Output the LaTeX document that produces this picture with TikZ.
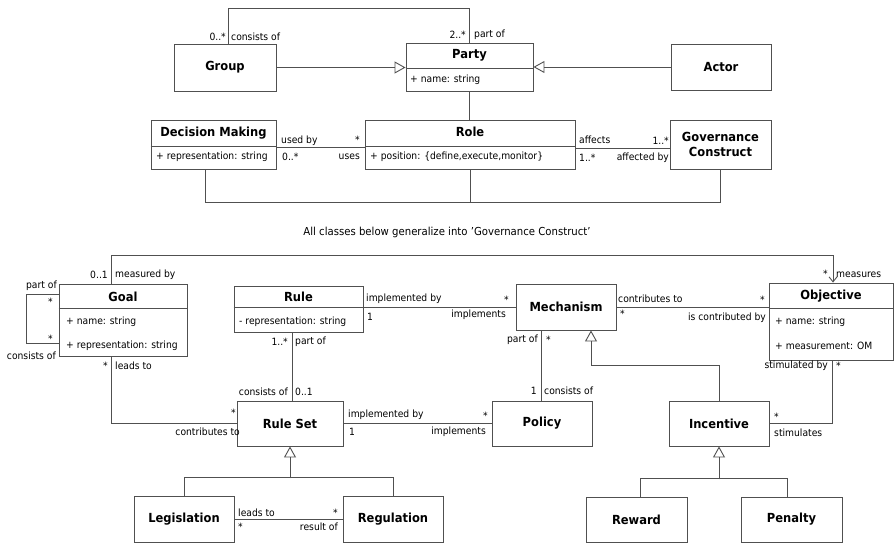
\documentclass[tikz,border=0pt]{standalone}
\usepackage{fontspec}
\setmainfont{DejaVu Sans}[FakeStretch=0.92]
\usetikzlibrary{arrows.meta,positioning}
\definecolor{lineclr}{HTML}{505050}
\tikzset{
   cls/.style={draw=lineclr, line width=0.9pt, shape=rectangle, inner sep=0pt},
   title/.style={font=\fontsize{12.5}{15}\selectfont\bfseries, align=center, inner sep=0pt},
   attr/.style={font=\fontsize{10}{11}\selectfont, anchor=west, inner sep=0pt},
   lbl/.style={font=\fontsize{10}{11}\selectfont, inner sep=0pt},
   assoc/.style={draw=lineclr, line width=0.9pt},
   gen/.style={assoc, -{Triangle[open, length=11pt, width=12pt]}},
   nav/.style={assoc, -{Straight Barb[length=5pt, width=8pt]}}
}
\begin{document}
\begin{tikzpicture}[x=1pt,y=-1pt]
   \useasboundingbox (0,0) rectangle (894,543);
   % upper part
   \path (225,67.5) node[cls, minimum width=102, minimum height=47] (group) {};
   \path (group.center) node[title] (groupT) {Group};
   \path (469.5,67) node[cls, minimum width=127, minimum height=48] (party) {};
   \path (469.5,55) node[title] (partyT) {Party};
   \path (410,80) node[attr] (partyA) {+ name: string};
   \path (721,67) node[cls, minimum width=100, minimum height=46] (actor) {};
   \path (actor.center) node[title] (actorT) {Actor};
   \path (213.5,144.5) node[cls, minimum width=125, minimum height=49] (dm) {};
   \path (213.5,133) node[title] (dmT) {Decision Making};
   \path (156,157) node[attr] (dmA) {+ representation: string};
   \path (470,144.5) node[cls, minimum width=210, minimum height=49] (role) {};
   \path (470,132) node[title] (roleT) {Role};
   \path (370,157) node[attr] (roleA) {+ position: \{define,execute,monitor\}};
   \path (720.5,144.5) node[cls, minimum width=101, minimum height=49] (gc) {};
   \path (gc.center) node[title] (gcT) {Governance\\Construct};
   \draw[assoc] (party.west |- 0,68) -- (party.east |- 0,68);
   \draw[assoc] (dm.west |- 0,146) -- (dm.east |- 0,146);
   \draw[assoc] (role.west |- 0,146) -- (role.east |- 0,146);

   \draw[assoc] ([xshift=3pt]group.north) -- ++(0,-35) -| (party.north);
   \draw[gen] (group.east) -- (group.east -| party.west);
   \draw[gen] (actor.west) -- (actor.west -| party.east);
   \draw[assoc] (party.south) -- (party.south |- role.north);
   \draw[assoc] ([yshift=-2.5pt]dm.east) -- ([yshift=-2.5pt]role.west);
   \draw[assoc] ([yshift=-3.5pt]role.east) -- ([yshift=-3.5pt]gc.west);
   \draw[assoc] ([xshift=-8.5pt]dm.south) -- ++(0,33) -| (gc.south);
   \draw[assoc] (role.south) -- ++(0,33);

   \path (226,37) node[lbl, anchor=east] (grpM) {0..*};
   \path (231,37) node[lbl, anchor=west] (grpR) {consists of};
   \path (466,35) node[lbl, anchor=east] (ptyM) {2..*};
   \path (474,35) node[lbl, anchor=west] (ptyR) {part of};
   \path (281,141) node[lbl, anchor=west] (dmR) {used by};
   \path (360,140) node[lbl, anchor=east] (roleM1) {*};
   \path (282,157) node[lbl, anchor=west] (dmM) {0..*};
   \path (360,157) node[lbl, anchor=east] (roleR1) {uses};
   \path (579,140) node[lbl, anchor=west] (roleR2) {affects};
   \path (669,141) node[lbl, anchor=east] (gcM) {1..*};
   \path (579,158) node[lbl, anchor=west] (roleM2) {1..*};
   \path (669,158) node[lbl, anchor=east] (gcR) {affected by};
   \path (447,232) node[lbl, font=\fontsize{11}{12}\selectfont] (note) {All classes below generalize into 'Governance Construct'};

   % lower part
   \path (123,320) node[cls, minimum width=128, minimum height=72] (goal) {};
   \path (123,297) node[title] (goalT) {Goal};
   \path (66,322) node[attr] (goalA1) {+ name: string};
   \path (66,346) node[attr] (goalA2) {+ representation: string};
   \path (298.5,309) node[cls, minimum width=129, minimum height=46] (rule) {};
   \path (298.5,297) node[title] (ruleT) {Rule};
   \path (239,322) node[attr] (ruleA) {- representation: string};
   \path (566,307) node[cls, minimum width=100, minimum height=46] (mech) {};
   \path (mech.center) node[title] (mechT) {Mechanism};
   \path (831,321.5) node[cls, minimum width=124, minimum height=77] (obj) {};
   \path (831,296) node[title] (objT) {Objective};
   \path (775,322) node[attr] (objA1) {+ name: string};
   \path (775,346) node[attr] (objA2) {+ measurement: OM};
   \path (290,423.5) node[cls, minimum width=106, minimum height=45] (ruleset) {};
   \path (ruleset.center) node[title] (rulesetT) {Rule Set};
   \path (542,423.5) node[cls, minimum width=100, minimum height=45] (policy) {};
   \path (policy.center) node[title] (policyT) {Policy};
   \path (719,423.5) node[cls, minimum width=100, minimum height=45] (incent) {};
   \path (incent.center) node[title] (incentT) {Incentive};
   \path (184,519) node[cls, minimum width=100, minimum height=46] (legis) {};
   \path (legis.center) node[title] (legisT) {Legislation};
   \path (393,519) node[cls, minimum width=100, minimum height=46] (regul) {};
   \path (regul.center) node[title] (regulT) {Regulation};
   \path (636.5,519.5) node[cls, minimum width=101, minimum height=45] (reward) {};
   \path (reward.center) node[title] (rewardT) {Reward};
   \path (791.5,519.5) node[cls, minimum width=101, minimum height=45] (penalty) {};
   \path (penalty.center) node[title] (penaltyT) {Penalty};
   \draw[assoc] (goal.west |- 0,308) -- (goal.east |- 0,308);
   \draw[assoc] (rule.west |- 0,307) -- (rule.east |- 0,307);
   \draw[assoc] (obj.west |- 0,308) -- (obj.east |- 0,308);

   \draw[nav] ([xshift=-12pt]goal.north) -- ++(0,-28) -| ([xshift=2pt]obj.north);
   \draw[assoc] ([yshift=26pt]goal.west) -- ++(-32,0) |- ([yshift=-23pt]goal.west);
   \draw[assoc] (rule.east |- mech.west) -- (mech.west);
   \draw[assoc] (mech.east) -- (mech.east -| obj.west);
   \draw[assoc] ([xshift=-25pt]mech.south) -- ([xshift=-25pt]mech.south |- policy.north);
   \draw[gen] (incent.north) -- ++(0,-35) -| ([xshift=25pt]mech.south);
   \draw[assoc] ([xshift=-6.5pt]rule.south) -- ([xshift=-6.5pt]rule.south |- ruleset.north);
   \draw[assoc] ([xshift=-12pt]goal.south) |- (ruleset.west);
   \draw[assoc] (ruleset.east) -- (policy.west);
   \draw[assoc] ([xshift=1pt]obj.south) |- (incent.east);
   \draw[assoc] (legis.north) -- ++(0,-18) -| (regul.north);
   \draw[gen] ([yshift=-32pt]ruleset.south) -- (ruleset.south);
   \draw[assoc] ([xshift=3.5pt]reward.north) -- ++(0,-18) -| ([xshift=-4.5pt]penalty.north);
   \draw[gen] ([yshift=-33pt]incent.south) -- (incent.south);
   \draw[assoc] (legis.east) -- (regul.west);

   \path (108,275) node[lbl, anchor=east] (goalM1) {0..1};
   \path (115,275) node[lbl, anchor=west] (goalR1) {measured by};
   \path (828,274) node[lbl, anchor=east] (objM1) {*};
   \path (836,275) node[lbl, anchor=west] (objR1) {measures};
   \path (57,286) node[lbl, anchor=east] (goalR2) {part of};
   \path (53,302) node[lbl, anchor=east] (goalM2) {*};
   \path (53,339) node[lbl, anchor=east] (goalM3) {*};
   \path (56,356) node[lbl, anchor=east] (goalR3) {consists of};
   \path (366,299) node[lbl, anchor=west] (ruleR1) {implemented by};
   \path (367,317) node[lbl, anchor=west] (ruleM1) {1};
   \path (509,300) node[lbl, anchor=east] (mechM1) {*};
   \path (506,315) node[lbl, anchor=east] (mechR1) {implements};
   \path (618,299) node[lbl, anchor=west] (mechR2) {contributes to};
   \path (620,314) node[lbl, anchor=west] (mechM2) {*};
   \path (765,300) node[lbl, anchor=east] (objM2) {*};
   \path (766,318) node[lbl, anchor=east] (objR2) {is contributed by};
   \path (538,340) node[lbl, anchor=east] (mechR3) {part of};
   \path (546,340) node[lbl, anchor=west] (mechM3) {*};
   \path (537,391) node[lbl, anchor=east] (policyM) {1};
   \path (544,391) node[lbl, anchor=west] (policyR) {consists of};
   \path (288,342) node[lbl, anchor=east] (ruleM2) {1..*};
   \path (295,342) node[lbl, anchor=west] (ruleR2) {part of};
   \path (288,392) node[lbl, anchor=east] (rulesetR1) {consists of};
   \path (295,392) node[lbl, anchor=west] (rulesetM1) {0..1};
   \path (828,366) node[lbl, anchor=east] (objR3) {stimulated by};
   \path (836,366) node[lbl, anchor=west] (objM3) {*};
   \path (108,366) node[lbl, anchor=east] (goalM4) {*};
   \path (115,366) node[lbl, anchor=west] (goalR4) {leads to};
   \path (236,413) node[lbl, anchor=east] (rulesetM2) {*};
   \path (240,432) node[lbl, anchor=east] (rulesetR2) {contributes to};
   \path (348,415) node[lbl, anchor=west] (rulesetR3) {implemented by};
   \path (349,432) node[lbl, anchor=west] (rulesetM3) {1};
   \path (488,416) node[lbl, anchor=east] (policyM2) {*};
   \path (486,432) node[lbl, anchor=east] (policyR2) {implements};
   \path (774,417) node[lbl, anchor=west] (incentM) {*};
   \path (774,433) node[lbl, anchor=west] (incentR) {stimulates};
   \path (238,513) node[lbl, anchor=west] (legisR) {leads to};
   \path (238,527) node[lbl, anchor=west] (legisM) {*};
   \path (338,513) node[lbl, anchor=east] (regulM) {*};
   \path (338,527) node[lbl, anchor=east] (regulR) {result of};
\end{tikzpicture}
\end{document}
